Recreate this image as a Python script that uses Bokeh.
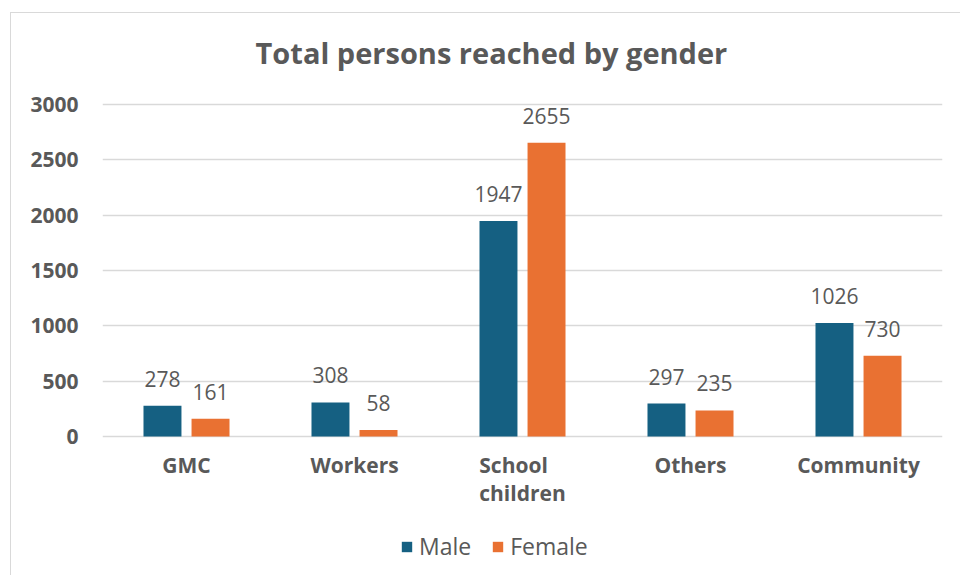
from bokeh.plotting import figure
from bokeh.models import ColumnDataSource, Range1d, FactorRange, LabelSet, Label, Legend, LegendItem
from bokeh.core.properties import value
from bokeh.transform import dodge
from bokeh.embed import file_html
from bokeh.resources import INLINE

title_text = "Total persons reached by gender"
categories = ["GMC", "Workers", "School children", "Others", "Community"]
category_labels = ["GMC", "Workers", "School\nchildren", "Others", "Community"]
male = [278, 308, 1947, 297, 1026]
female = [161, 58, 2655, 235, 730]
y_ticks = [0, 500, 1000, 1500, 2000, 2500, 3000]

MALE_C = "#156082"
FEMALE_C = "#E97132"
TXT = "#595959"
FONT = "Open Sans"

src = ColumnDataSource(dict(
    cat=categories, cat_lbl=category_labels, zero=[0] * len(categories),
    male=male, female=female,
    male_lbl=[str(v) for v in male], female_lbl=[str(v) for v in female],
))

# y range extends beyond the data so the title, category labels and legend sit inside the frame
p = figure(x_range=FactorRange(*categories), y_range=Range1d(-1256, 3822),
           frame_width=840, frame_height=562, output_backend="svg", toolbar_location=None,
           min_border_left=91, min_border_right=18, min_border_top=0, min_border_bottom=0)
p.margin = (12, 0, 0, 10)
p.styles = {"border-left": "1px solid #d9d9d9", "border-top": "1px solid #d9d9d9",
            "border-right": "none", "border-bottom": "none"}
p.outline_line_color = None

title = Label(x=2.315, y=3470, text=title_text, text_align="center", text_baseline="middle",
              text_font=FONT, text_font_size="29px", text_font_style="bold", text_color=TXT)
p.add_layout(title)

r_m = p.vbar(x=dodge("cat", -0.143, range=p.x_range), top="male", width=0.226,
             source=src, fill_color=MALE_C, line_color=None)
r_f = p.vbar(x=dodge("cat", 0.143, range=p.x_range), top="female", width=0.226,
             source=src, fill_color=FEMALE_C, line_color=None)

for col, off in (("male", -0.143), ("female", 0.143)):
    ls = LabelSet(x=dodge("cat", off, range=p.x_range), y=col, text=col + "_lbl", source=src,
                  text_align="center", text_baseline="alphabetic", y_offset=19,
                  text_font=value(FONT), text_font_size="21px", text_color=TXT)
    p.add_layout(ls)

cat_labels = LabelSet(x="cat", y="zero", text="cat_lbl", source=src,
                      text_align="center", text_baseline="top", y_offset=-15,
                      text_font=value(FONT), text_font_style="bold", text_font_size="21px",
                      text_color=TXT, text_line_height=1.0)
p.add_layout(cat_labels)

p.yaxis.ticker = y_ticks
p.yaxis.axis_line_color = None
p.yaxis.major_tick_line_color = None
p.yaxis.minor_tick_line_color = None
p.yaxis.major_label_standoff = 18
p.yaxis.major_label_text_font = FONT
p.yaxis.major_label_text_font_style = "bold"
p.yaxis.major_label_text_font_size = "21px"
p.yaxis.major_label_text_color = TXT

p.xaxis.visible = False

p.xgrid.grid_line_color = None
p.ygrid.ticker = y_ticks
p.ygrid.grid_line_color = "#d9d9d9"
p.ygrid.grid_line_width = 1.5

legend = Legend(items=[LegendItem(label="Male", renderers=[r_m]),
                       LegendItem(label="Female", renderers=[r_f])],
                orientation="horizontal", location=(298, 13),
                label_text_font=FONT, label_text_font_size="23px",
                label_text_color=TXT, glyph_width=13, glyph_height=13,
                spacing=20, border_line_color=None, background_fill_alpha=0,
                label_standoff=6, margin=0, padding=4)
p.add_layout(legend, "center")

open("out.html", "w").write(file_html(p, INLINE))
